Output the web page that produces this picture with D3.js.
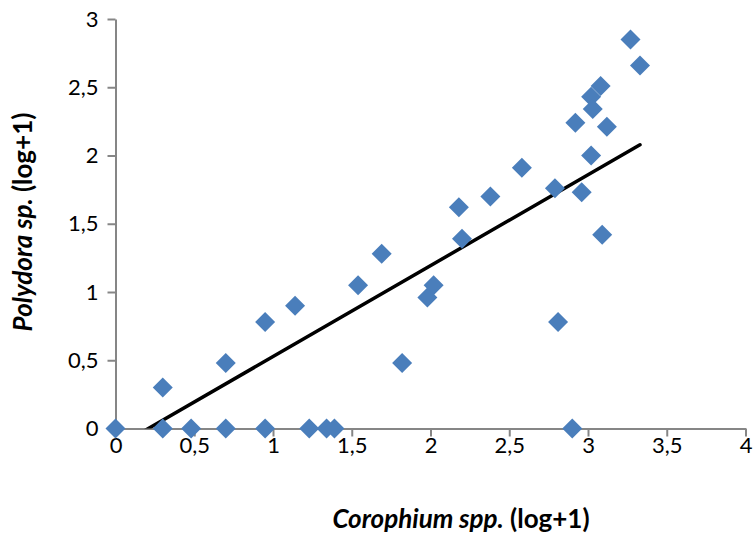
<!DOCTYPE html>
<html>
<head>
<meta charset="utf-8">
<script src="https://cdn.jsdelivr.net/npm/d3@7"></script>
<style>
  html, body { margin: 0; padding: 0; background: #fff; }
  svg { display: block; }
  text { font-family: Lato, "Open Sans", sans-serif; }
</style>
</head>
<body>
<svg id="chart" width="754" height="533"></svg>
<script>
// Corophium spp. (log+1)
const corophium = [0, 0.30, 0.30, 0.48, 0.70, 0.70, 0.95, 0.95, 1.14, 1.23, 1.34, 1.39,
  1.54, 1.69, 1.82, 1.98, 2.02, 2.18, 2.20, 2.38, 2.58, 2.79, 2.81, 2.90,
  2.92, 2.96, 3.02, 3.02, 3.03, 3.08, 3.09, 3.12, 3.27, 3.33];
// Polydora sp. (log+1)
const polydora = [0, 0.30, 0, 0, 0.48, 0, 0.78, 0, 0.90, 0, 0, 0,
  1.05, 1.28, 0.48, 0.96, 1.05, 1.62, 1.39, 1.70, 1.91, 1.76, 0.78, 0,
  2.24, 1.73, 2.00, 2.43, 2.34, 2.51, 1.42, 2.21, 2.85, 2.66];
const xTicks = [0, 0.5, 1, 1.5, 2, 2.5, 3, 3.5, 4];
const yTicks = [0, 0.5, 1, 1.5, 2, 2.5, 3];
const trendSlope = 0.666;
const trendIntercept = -0.139;

const svg = d3.select("#chart");
const margin = { left: 115.5, right: 8.5, top: 19, bottom: 104.5 };
const W = 754, H = 533;
const x = d3.scaleLinear().domain([0, 4]).range([margin.left, W - margin.right]);
const y = d3.scaleLinear().domain([0, 3]).range([H - margin.bottom, margin.top]);
const fmt = d => String(d).replace(".", ",");
const axisColor = "#868686";

// X axis
const gx = svg.append("g")
  .attr("transform", `translate(0,${y(0)})`)
  .call(d3.axisBottom(x).tickValues(xTicks).tickFormat(fmt).tickSize(8).tickPadding(1).tickSizeOuter(0));
// Y axis
const gy = svg.append("g")
  .attr("transform", `translate(${x(0)},0)`)
  .call(d3.axisLeft(y).tickValues(yTicks).tickFormat(fmt).tickSize(8).tickPadding(9).tickSizeOuter(0));

[gx, gy].forEach(g => {
  g.select(".domain").attr("stroke", axisColor).attr("stroke-width", 2);
  g.selectAll(".tick line").attr("stroke", axisColor).attr("stroke-width", 2);
  g.selectAll(".tick text").attr("fill", "#000").style("font-size", "22px")
    .style("font-family", "Lato, 'Open Sans', sans-serif");
});

// clip to plot area (keeps the trend line above y = 0)
svg.append("clipPath").attr("id", "plot")
  .append("rect").attr("x", x(0)).attr("y", y(3) - 12)
  .attr("width", x(4) - x(0)).attr("height", y(0) - y(3) + 12);

// Trend line
const xMin = d3.min(corophium), xMax = d3.max(corophium);
svg.append("line")
  .attr("clip-path", "url(#plot)")
  .attr("x1", x(xMin)).attr("y1", y(trendSlope * xMin + trendIntercept))
  .attr("x2", x(xMax)).attr("y2", y(trendSlope * xMax + trendIntercept))
  .attr("stroke", "#000").attr("stroke-width", 3.5).attr("stroke-linecap", "round");

// Points
const pts = corophium.map((c, i) => ({ c, p: polydora[i] }));
const sq = d3.symbol().type(d3.symbolSquare).size(200);
svg.append("g").selectAll("path").data(pts).join("path")
  .attr("d", sq)
  .attr("transform", d => `translate(${x(d.c)},${y(d.p)}) rotate(45)`)
  .attr("fill", "#4a7ebb");

// Axis titles
const xt = svg.append("text")
  .attr("x", 461).attr("y", 528)
  .attr("text-anchor", "middle")
  .style("font-size", "26px").style("font-weight", "bold");
xt.append("tspan").style("font-style", "italic").text("Corophium spp.");
xt.append("tspan").text(" (log+1)");

const yt = svg.append("text")
  .attr("transform", `translate(32,222) rotate(-90)`)
  .attr("text-anchor", "middle")
  .style("font-size", "26px").style("font-weight", "bold");
yt.append("tspan").style("font-style", "italic").text("Polydora sp.");
yt.append("tspan").text(" (log+1)");
</script>
</body>
</html>
